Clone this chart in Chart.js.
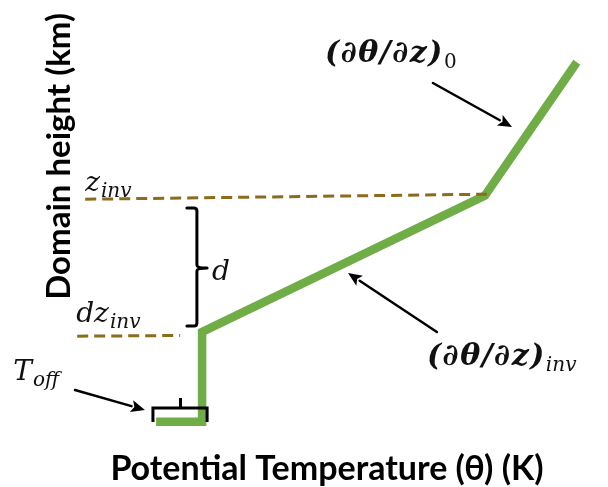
<!DOCTYPE html>
<html>
<head>
<meta charset="utf-8">
<script src="https://cdn.jsdelivr.net/npm/chart.js@4/dist/chart.umd.min.js"></script>
<style>
  html, body { margin: 0; padding: 0; background: #ffffff; }
  #wrap { width: 608px; height: 487px; }
</style>
</head>
<body>
<div id="wrap"><canvas id="profile" width="608" height="487"></canvas></div>
<script>
// Idealised potential-temperature profile (theta in K, height in km)
const profileTheta = [293.95, 296.25, 296.25, 310.4, 315.0];
const profileZ     = [0.18,   0.18,   0.80,   1.74,  2.66];

// Reference heights: inversion top (z_inv) and inversion base (dz_inv)
const zInvTheta  = [290.4, 310.5];
const zInvZ      = [1.715, 1.75];
const dzInvTheta = [290.0, 295.15];
const dzInvZ     = [0.77,  0.775];

// Bracket marking the inversion depth d: hook, spine, tip / top, middle, bottom
const braceDTheta = [295.49, 295.99, 296.50];
const braceDZ     = [1.655,  1.241,  0.840];

// Bracket marking the surface offset T_off: left, middle, right / ends, bar, nub
const braceToffTheta = [293.79, 295.17, 296.50];
const braceToffZ     = [0.178,  0.275,  0.344];

// Arrows: [tail, head]
const arrowLapseTheta = [307.80, 311.76];
const arrowLapseZ     = [2.517,  2.213];
const arrowInvTheta   = [308.00, 303.55];
const arrowInvZ       = [0.799,  1.206];
const arrowToffTheta  = [289.89, 293.39];
const arrowToffZ      = [0.399,  0.261];

// Math labels: main text, subscript, anchor (left, baseline)
const labelMain  = ['(∂θ/∂z)', '(∂θ/∂z)', 'z',    'dz',   'T',    'd'];
const labelSub   = ['0',       'inv',     'inv',  'inv',  'off',  ''];
const labelTheta = [302.40,    307.50,    290.40, 289.95, 286.80, 296.75];
const labelZ     = [2.662,     0.571,     1.772,  0.868,  0.468,  1.158];
const labelBold  = [true,      true,      false,  false,  false,  false];

const GREEN = '#70AD47';
const BROWN = '#8C6B1D';
const SERIF = '"DejaVu Serif", "Liberation Serif", serif';
const SANS = 'Lato, "Open Sans", sans-serif';

const pairs = (xs, ys) => xs.map((v, i) => ({ x: v, y: ys[i] }));

function arrow(ctx, x0, y0, x1, y1) {
  const a = Math.atan2(y1 - y0, x1 - x0);
  const len = 14, half = 6;
  const bx = x1 - len * Math.cos(a), by = y1 - len * Math.sin(a);
  ctx.beginPath();
  ctx.moveTo(x0, y0);
  ctx.lineTo(bx, by);
  ctx.stroke();
  ctx.beginPath();
  ctx.moveTo(x1, y1);
  ctx.lineTo(bx + half * Math.sin(a), by - half * Math.cos(a));
  ctx.lineTo(bx + 3 * Math.cos(a), by + 3 * Math.sin(a));
  ctx.lineTo(bx - half * Math.sin(a), by + half * Math.cos(a));
  ctx.closePath();
  ctx.fill();
}

const annotate = {
  id: 'annotate',
  afterDatasetsDraw(chart) {
    const { ctx } = chart;
    const xs = chart.scales.x, ys = chart.scales.y;
    const px = v => xs.getPixelForValue(v);
    const py = v => ys.getPixelForValue(v);
    ctx.save();
    ctx.strokeStyle = '#000';
    ctx.fillStyle = '#000';
    ctx.lineWidth = 3;
    ctx.lineCap = 'round';
    ctx.lineJoin = 'round';

    // inversion depth bracket
    const [hx, sx, tx] = braceDTheta.map(px);
    const [ty, my, by] = braceDZ.map(py);
    ctx.beginPath();
    ctx.moveTo(hx, ty);
    ctx.lineTo(sx - 3, ty);
    ctx.quadraticCurveTo(sx, ty, sx, ty + 3);
    ctx.lineTo(sx, my - 3);
    ctx.quadraticCurveTo(sx, my, tx, my);
    ctx.quadraticCurveTo(sx, my, sx, my + 3);
    ctx.lineTo(sx, by - 3);
    ctx.quadraticCurveTo(sx, by, sx - 3, by);
    ctx.lineTo(hx, by);
    ctx.stroke();

    // surface offset bracket
    const [lx, mx, rx] = braceToffTheta.map(px);
    const [ey, barY, nubY] = braceToffZ.map(py);
    ctx.lineCap = 'butt';
    ctx.lineJoin = 'miter';
    ctx.beginPath();
    ctx.moveTo(lx, ey);
    ctx.lineTo(lx, barY);
    ctx.lineTo(rx, barY);
    ctx.lineTo(rx, ey);
    ctx.moveTo(mx, barY);
    ctx.lineTo(mx, nubY);
    ctx.stroke();

    // arrows
    ctx.lineWidth = 2.5;
    ctx.lineCap = 'round';
    [[arrowLapseTheta, arrowLapseZ], [arrowInvTheta, arrowInvZ], [arrowToffTheta, arrowToffZ]]
      .forEach(([t, z]) => arrow(ctx, px(t[0]), py(z[0]), px(t[1]), py(z[1])));

    // labels
    ctx.textBaseline = 'alphabetic';
    ctx.textAlign = 'left';
    ctx.fillStyle = '#111';
    labelMain.forEach((txt, i) => {
      const x0 = px(labelTheta[i]), y0 = py(labelZ[i]);
      const bold = labelBold[i];
      ctx.font = bold ? `italic bold 30px ${SERIF}` : `italic 28px ${SERIF}`;
      ctx.letterSpacing = bold ? '1.5px' : '0px';
      ctx.fillText(txt, x0, y0);
      const w = ctx.measureText(txt).width;
      ctx.letterSpacing = '0px';
      const sub = labelSub[i];
      if (sub) {
        ctx.font = sub === '0' ? `20px ${SERIF}` : `italic 20px ${SERIF}`;
        ctx.fillText(sub, x0 + w + (bold ? 0 : 1), y0 + (bold ? 6 : 6));
      }
    });
    ctx.restore();
  }
};

new Chart(document.getElementById('profile'), {
  type: 'scatter',
  data: {
    datasets: [
      {
        data: pairs(zInvTheta, zInvZ),
        showLine: true, borderColor: BROWN, borderWidth: 3,
        borderDash: [11, 6], pointRadius: 0, clip: false
      },
      {
        data: pairs(dzInvTheta, dzInvZ),
        showLine: true, borderColor: BROWN, borderWidth: 3,
        borderDash: [11, 6], pointRadius: 0, clip: false
      },
      {
        data: pairs(profileTheta, profileZ),
        showLine: true, borderColor: GREEN, borderWidth: 8.5,
        borderJoinStyle: 'miter', borderCapStyle: 'butt',
        pointRadius: 0, tension: 0, clip: false
      }
    ]
  },
  options: {
    responsive: false,
    animation: false,
    devicePixelRatio: 1,
    layout: { padding: { left: 40, right: 31.2, top: 13, bottom: 0 } },
    plugins: { legend: { display: false }, tooltip: { enabled: false } },
    scales: {
      x: {
        type: 'linear', min: 290, max: 315,
        grid: { display: false, drawTicks: false },
        border: { display: false },
        ticks: { display: false },
        title: {
          display: true, text: 'Potential Temperature (θ) (K)', color: '#000',
          font: { family: SANS, size: 34, weight: 'bold', lineHeight: '30px' },
          padding: { top: 6.2, bottom: 3 }
        }
      },
      y: {
        type: 'linear', min: 0, max: 3,
        grid: { display: false, drawTicks: false },
        border: { display: false },
        ticks: { display: false },
        title: {
          display: true, text: 'Domain height (km)', color: '#000', align: 'end',
          font: { family: SANS, size: 33, weight: 'bold', lineHeight: '30px' },
          padding: { top: 4, bottom: 3.2 }
        }
      }
    }
  },
  plugins: [annotate]
});
</script>
</body>
</html>
